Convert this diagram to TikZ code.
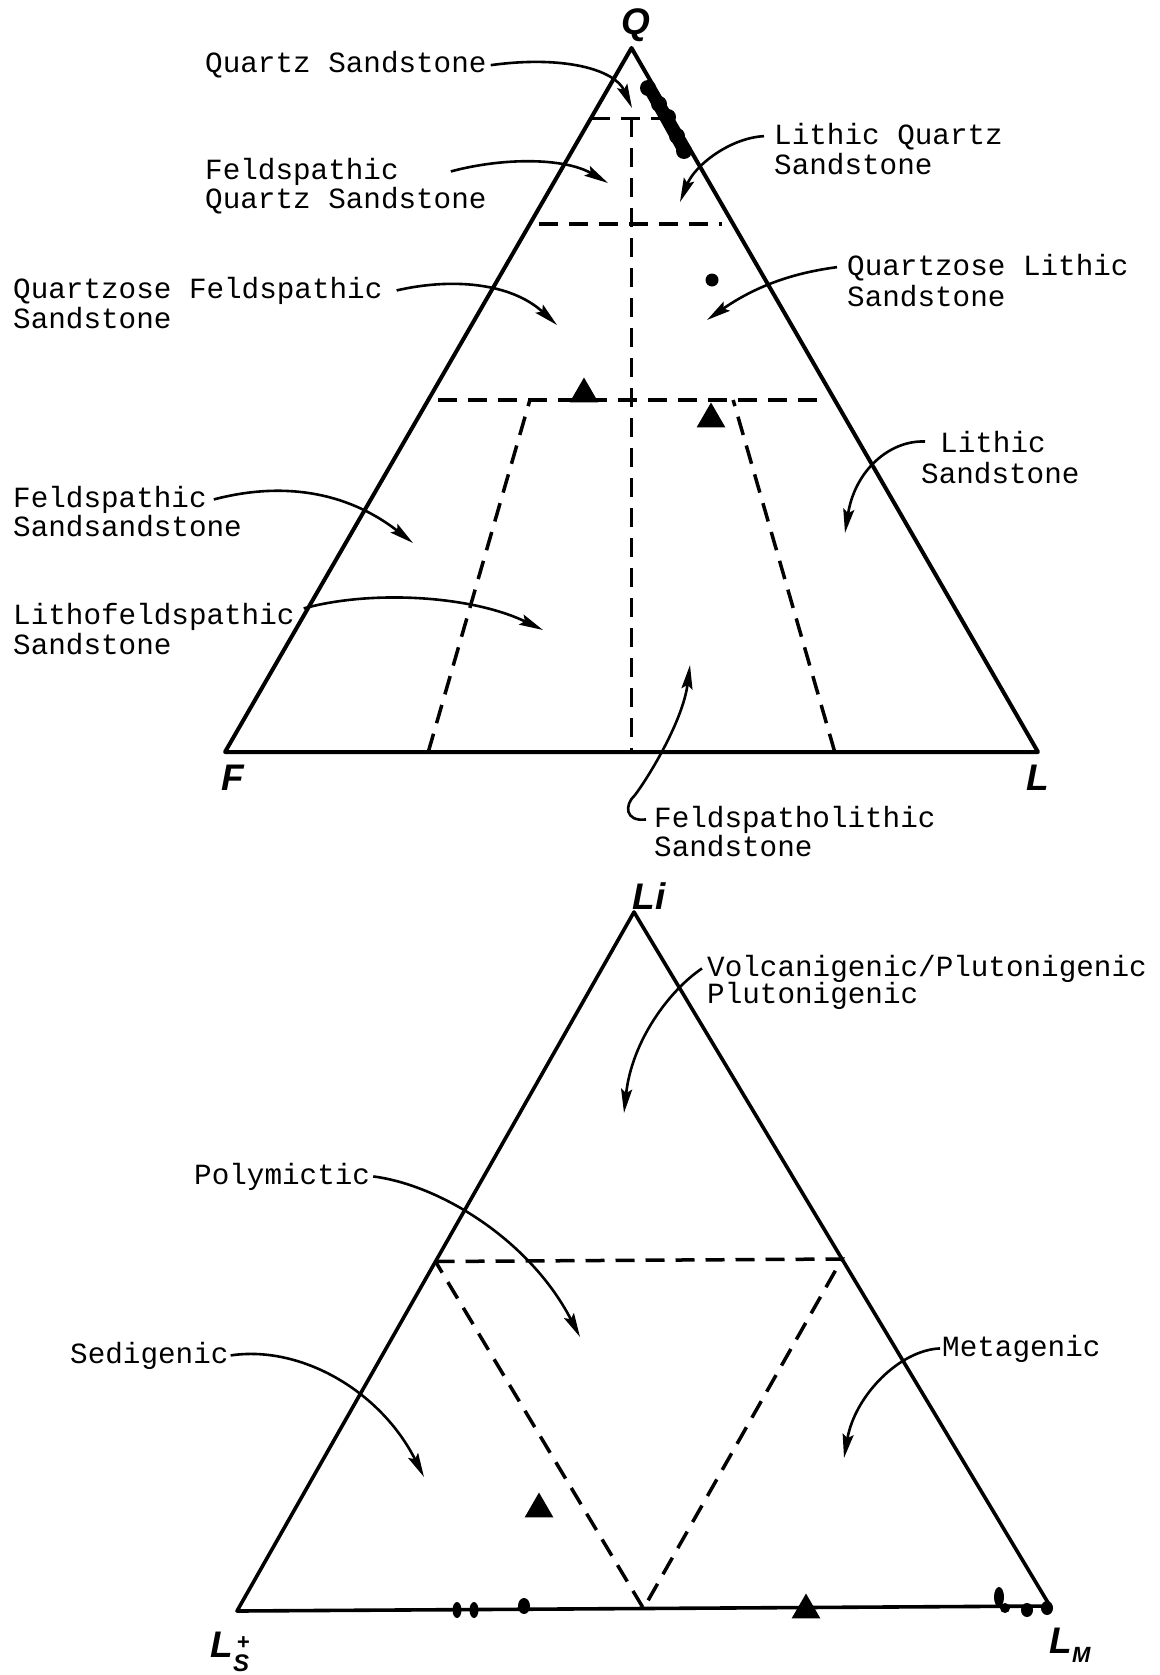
\documentclass[tikz,border=0pt]{standalone}
\usepackage{fontspec}
\newfontfamily\tw{Liberation Mono}
\newfontfamily\hand{Liberation Sans}
\usetikzlibrary{arrows.meta,calc,shapes.geometric}
\begin{document}
\begin{tikzpicture}[x=1pt,y=-1pt,
  edge/.style={line width=4pt, line join=round},
  dashline/.style={line width=3.5pt, dash pattern=on 19pt off 11pt},
  lead/.style={line width=2.6pt, -{Stealth[length=24pt,width=11pt,inset=4pt]}},
  lab/.style={font={\tw\fontsize{29.3}{30}\selectfont}, inner sep=0pt, anchor=base west},
  corner/.style={font={\hand\bfseries\itshape\fontsize{37}{37}\selectfont}, inner sep=0pt},
  tri/.style={regular polygon, regular polygon sides=3, fill=black, draw=none, inner sep=0pt, minimum size=33pt},
  blob/.style={fill=black}
]
\useasboundingbox[fill=white] (0,0) rectangle (1159,1675);

% ---------- top QFL triangle ----------
\coordinate (F) at (225,752);
\coordinate (L) at (1038,752);
\coordinate (Q) at (631.5,48);
\coordinate (FLm) at ($(F)!0.5!(L)$);
\coordinate (b25) at ($(F)!0.25!(L)$);
\coordinate (b75) at ($(F)!0.75!(L)$);

\draw[edge] (F) -- (L) -- (Q) -- cycle;
\draw[dashline] ($(F)!0.9!(Q)$) -- ($(L)!0.9!(Q)$);
\draw[dashline] ($(F)!0.75!(Q)+(9,0)$) -- ($(L)!0.75!(Q)+(-11,0)$);
\draw[dashline] ($(F)!0.5!(Q)+(10,0)$) -- ($(L)!0.5!(Q)+(-8,0)$);
\draw[dashline] ($(FLm)!0.9!(Q)$) -- (FLm);
\draw[dashline] (b25) -- ($(b25)!0.5!(Q)$);
\draw[dashline] (b75) -- ($(b75)!0.5!(Q)$);

% data
\draw[line width=12pt, line cap=round] (649,88) -- (684,151);
\foreach \p in {(648,88),(659,104),(668,117),(677,136),(684,151)}
  \fill[blob] \p circle[radius=8];
\fill[blob] (712,280) circle[radius=6.5];
\node[tri] (t1) at (584,394) {};
\node[tri] (t2) at (711,419) {};

\node[corner] (Qlab) at (636,25) {Q};
\node[corner] (Flab) at (233,778) {F};
\node[corner] (Llab) at (1038,778) {L};

% labels
\node[lab] (qs) at (205,73) {Quartz Sandstone};
\node[lab] (fq1) at (205,179) {Feldspathic};
\node[lab] (fq2) at (205,208) {Quartz Sandstone};
\node[lab] (lq1) at (774,144) {Lithic Quartz};
\node[lab] (lq2) at (774,174) {Sandstone};
\node[lab] (qf1) at (13,298) {Quartzose Feldspathic};
\node[lab] (qf2) at (13,328) {Sandstone};
\node[lab] (ql1) at (847,275) {Quartzose Lithic};
\node[lab] (ql2) at (847,306) {Sandstone};
\node[lab] (ls1) at (940,452) {Lithic};
\node[lab] (ls2) at (921,483) {Sandstone};
\node[lab] (fs1) at (13,507) {Feldspathic};
\node[lab] (fs2) at (13,536) {Sandsandstone};
\node[lab] (lf1) at (13,624) {Lithofeldspathic};
\node[lab] (lf2) at (13,654) {Sandstone};
\node[lab] (fl1) at (654,827) {Feldspatholithic};
\node[lab] (fl2) at (654,856) {Sandstone};

\coordinate (qsE) at (632,108);
\coordinate (fqE) at (608,183);
\coordinate (lqE) at (680,202);
\coordinate (qfE) at (557,325);
\coordinate (qlE) at (707,320);
\coordinate (lsE) at (845,533);
\coordinate (fsE) at (413,543);
\coordinate (lfE) at (543,630);
\coordinate (flE) at (690,665);

\draw[lead] ([xshift=4pt]qs.east) .. controls (565,55) and (615,70) .. (qsE);
\draw[lead] ([xshift=52pt]fq1.east) .. controls (505,157) and (565,158) .. (fqE);
\draw[lead] ([xshift=-10pt]lq1.west) .. controls (730,138) and (695,165) .. (lqE);
\draw[lead] ([xshift=14pt]qf1.east) .. controls (450,278) and (510,282) .. (qfE);
\draw[lead] ([xshift=-10pt]ql1.west) .. controls (800,272) and (760,283) .. (qlE);
\draw[lead] ([xshift=-15pt]ls1.west) .. controls (890,440) and (855,470) .. (lsE);
\draw[lead] ([xshift=7pt]fs1.east) .. controls (280,482) and (345,490) .. (fsE);
\draw[lead] ([xshift=9pt,yshift=8pt]lf1.east) .. controls (370,590) and (470,595) .. (lfE);
\draw[lead] ([xshift=-8pt]fl1.west) .. controls (625,822) and (624,805) .. (635,795)
   .. controls (650,775) and (683,720) .. (flE);

% ---------- bottom Li-Ls-Lm triangle ----------
\coordinate (Ls) at (237,1611);
\coordinate (Lm) at (1050,1606);
\coordinate (Li) at (634,912);
\coordinate (mL) at ($(Ls)!0.5!(Li)$);
\coordinate (mR) at ($(Lm)!0.5!(Li)$);
\coordinate (mB) at ($(Ls)!0.5!(Lm)$);

\draw[edge, line width=3.6pt] (Ls) -- (Lm) -- (Li) -- cycle;
\draw[dashline] (mL) -- (mR) -- (mB) -- cycle;

\node[tri] (t3) at (539,1509) {};
\node[tri] (t4) at (806,1610) {};
\fill[blob] (457,1610) ellipse[x radius=4.5, y radius=8];
\fill[blob] (474,1610) ellipse[x radius=4.5, y radius=8];
\fill[blob] (524,1606) ellipse[x radius=6, y radius=8];
\fill[blob] (999,1597) ellipse[x radius=5, y radius=10];
\fill[blob] (1005,1608) circle[radius=5];
\fill[blob] (1027,1610) ellipse[x radius=6, y radius=7];
\fill[blob] (1047,1608) ellipse[x radius=6, y radius=7];

\node[corner] (Lilab) at (649,896) {Li};
\node[corner] (Lslab) at (230,1652) {L\rlap{\raisebox{-14pt}{\fontsize{24}{24}\selectfont S}}\raisebox{8pt}{\fontsize{22}{22}\selectfont\,+}};
\node[corner] (Lmlab) at (1070,1645) {L\raisebox{-9pt}{\fontsize{22}{22}\selectfont M}};

\node[lab] (vp1) at (707,976) {Volcanigenic/Plutonigenic};
\node[lab] (vp2) at (707,1003) {Plutonigenic};
\node[lab] (pm) at (194,1184) {Polymictic};
\node[lab] (sg) at (70,1363) {Sedigenic};
\node[lab] (mg) at (942,1356) {Metagenic};

\coordinate (vpE) at (624,1113);
\coordinate (pmE) at (580,1337);
\coordinate (sgE) at (424,1477);
\coordinate (mgE) at (844,1458);

\draw[lead] ([xshift=-5pt]vp1.west) .. controls (670,990) and (632,1040) .. (vpE);
\draw[lead] ([xshift=3pt]pm.east) .. controls (440,1185) and (530,1240) .. (pmE);
\draw[lead] ([xshift=2pt]sg.east) .. controls (300,1345) and (380,1390) .. (sgE);
\draw[lead] ([xshift=-2pt]mg.west) .. controls (900,1350) and (855,1395) .. (mgE);
\end{tikzpicture}
\end{document}
